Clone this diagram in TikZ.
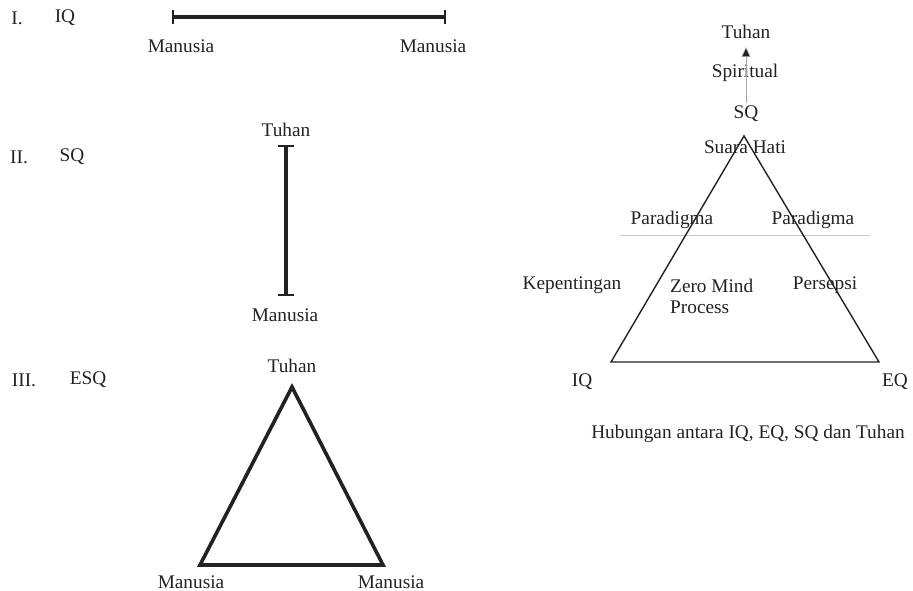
\documentclass[tikz,border=0pt]{standalone}
\usepackage{fontspec}
\setmainfont{Liberation Serif}
\usetikzlibrary{arrows.meta}
\definecolor{ink}{HTML}{222222}
\definecolor{rule}{HTML}{C8C8C8}
\tikzset{
  lbl/.style={inner sep=0pt, text=ink, font=\fontsize{19.3}{21}\selectfont},
  thickline/.style={line width=3.6pt, draw=ink},
  bar/.style={line width=2.6pt, draw=ink},
  thinline/.style={line width=1.4pt, draw=ink},
}
\begin{document}
\begin{tikzpicture}[x=1pt,y=-1pt]
\useasboundingbox (0,0) rectangle (913,591);
% ---------- I. IQ ----------
\node[lbl] (n1) at (17,18) {I.};
\node[lbl] (iq1) at (65,18) {IQ};
\coordinate (a1) at (173,17);
\coordinate (b1) at (445,17);
\draw[thickline] (a1) -- (b1);
\draw[bar] ([yshift=-7pt]a1) -- ([yshift=7pt]a1);
\draw[bar] ([yshift=-7pt]b1) -- ([yshift=7pt]b1);
\node[lbl] (m1a) at (181,46) {Manusia};
\node[lbl] (m1b) at (433,46) {Manusia};
% ---------- II. SQ ----------
\node[lbl] (n2) at (19,157) {II.};
\node[lbl] (sq2) at (72,157) {SQ};
\coordinate (a2) at (286,146);
\coordinate (b2) at (286,295);
\draw[thickline] (a2) -- (b2);
\draw[bar] ([xshift=-8pt]a2) -- ([xshift=8pt]a2);
\draw[bar] ([xshift=-8pt]b2) -- ([xshift=8pt]b2);
\node[lbl] (t2) at (286,130) {Tuhan};
\node[lbl] (m2) at (285,315) {Manusia};
% ---------- III. ESQ ----------
\node[lbl] (n3) at (24,380) {III.};
\node[lbl] (esq3) at (88,380) {ESQ};
\coordinate (p3) at (292,387);
\coordinate (q3) at (200,565);
\coordinate (r3) at (383,565);
\draw[thickline, line join=miter] (p3) -- (q3) -- (r3) -- cycle;
\node[lbl] (t3) at (292,366) {Tuhan};
\node[lbl] (m3a) at (191,582) {Manusia};
\node[lbl] (m3b) at (391,582) {Manusia};
% ---------- Right diagram ----------
\coordinate (P) at (744,136);
\coordinate (L) at (611,362);
\coordinate (R) at (879,362);
\coordinate (g1) at (620,235);
\coordinate (g2) at (870,235);
\draw[rule, line width=0.8pt] (g1) -- (g2);
\draw[thinline, line join=miter] (P) -- (L) -- (R) -- cycle;
\node[lbl] (tuhan) at (746,32) {Tuhan};
\node[lbl] (spir) at (745,73) {Spiritual};
\node[lbl] (sq) at (746,114) {SQ};
\coordinate (arrS) at (746,103);
\coordinate (arrE) at (746,47);
\draw[draw=gray!70, line width=0.6pt, -{Triangle[length=10pt,width=9pt,fill=ink]}] (arrS) -- (arrE);
\node[lbl] (suara) at (745,147) {Suara Hati};
\node[lbl] (para1) at (672,220) {Paradigma};
\node[lbl] (para2) at (813,220) {Paradigma};
\node[lbl] (kep) at (572,285) {Kepentingan};
\node[lbl, anchor=west, align=left] (zero) at (670,296) {Zero Mind\\Process};
\node[lbl] (pers) at (825,285) {Persepsi};
\node[lbl] (iq) at (582,382) {IQ};
\node[lbl] (eq) at (895,382) {EQ};
\node[lbl] (cap) at (748,434) {Hubungan antara IQ, EQ, SQ dan Tuhan};
\end{tikzpicture}
\end{document}
